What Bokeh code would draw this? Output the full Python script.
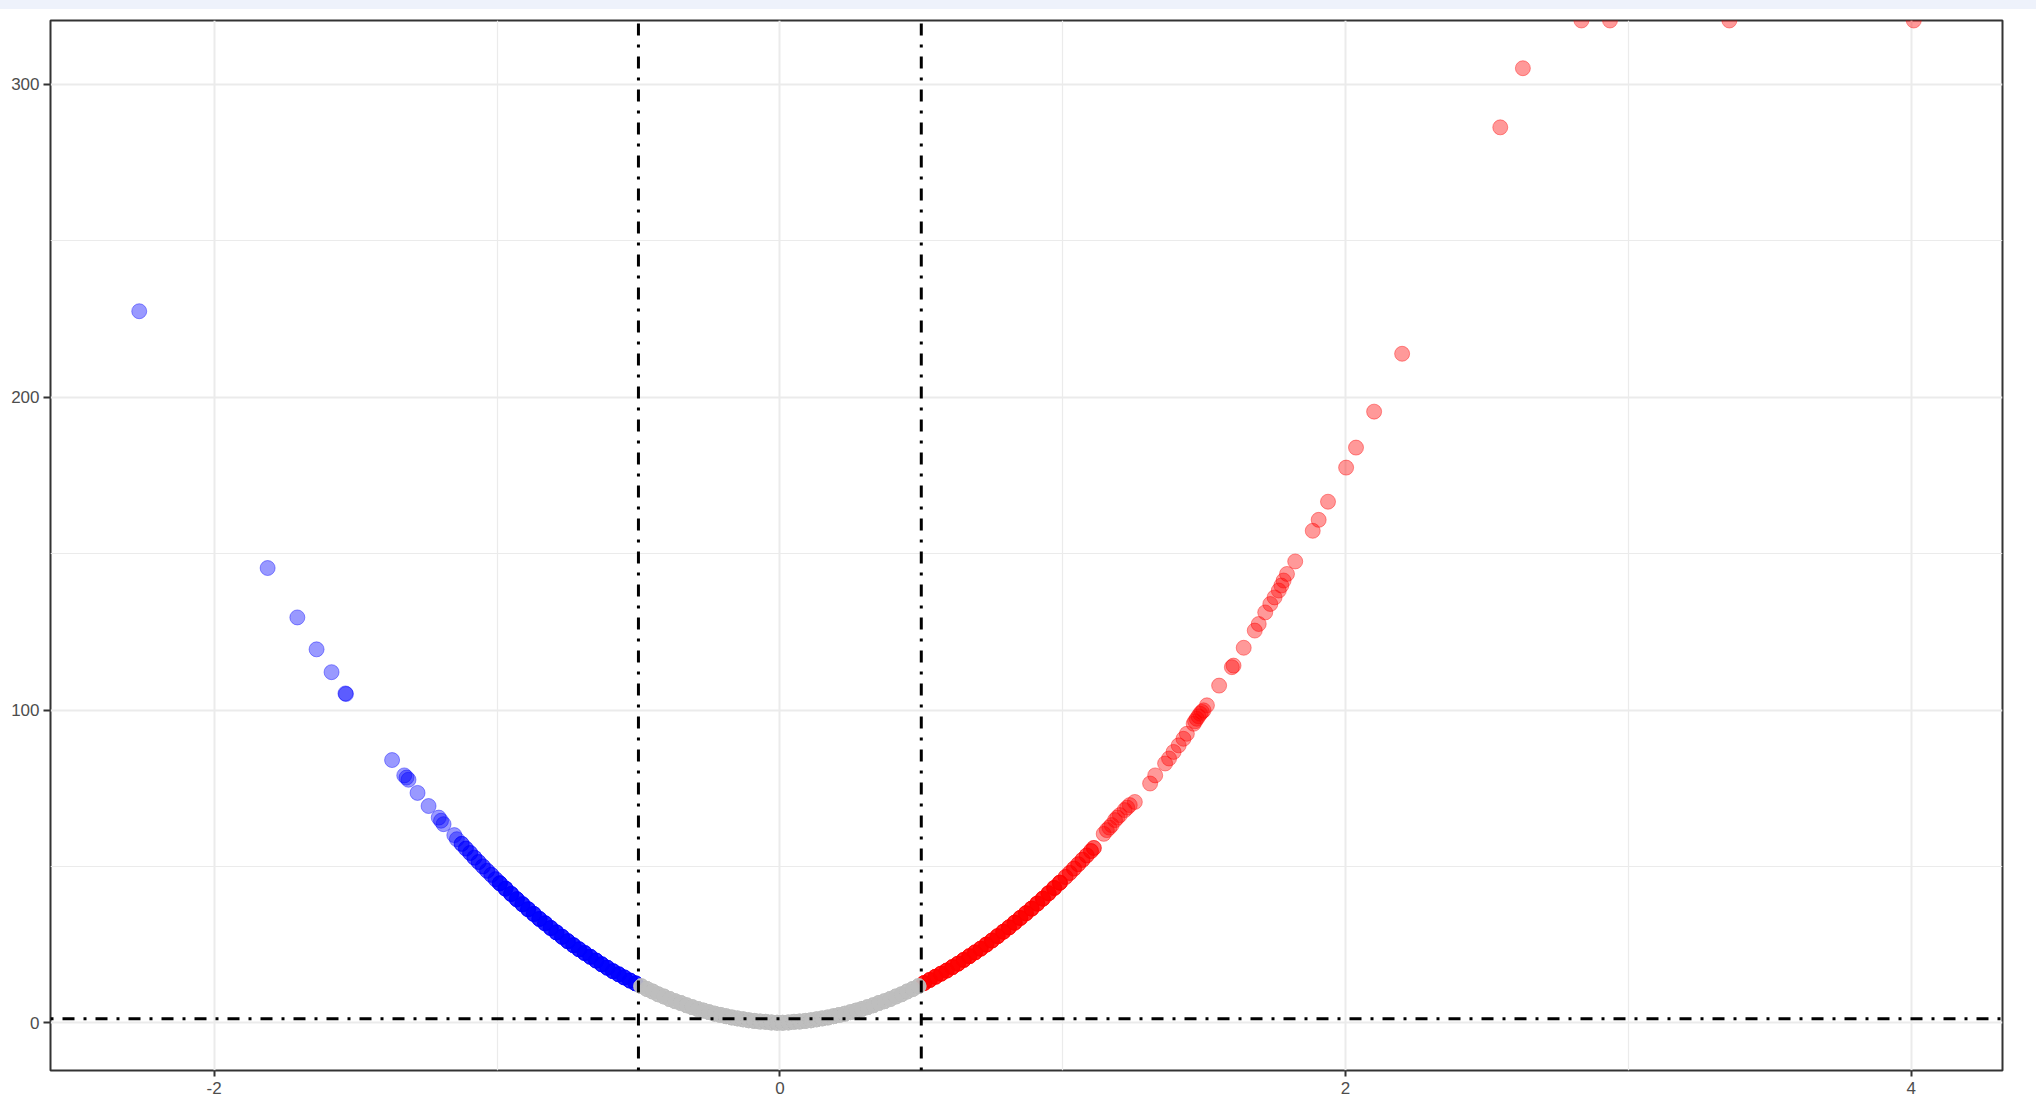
import numpy as np
from bokeh.plotting import figure
from bokeh.models import Range1d, FixedTicker, ColumnDataSource
from bokeh.embed import file_html
from bokeh.resources import INLINE

# ---------------- data ----------------
# log2 fold change (x), -log10 p value (y), n = how many genes sit on that spot
down_x = [-0.51, -0.53, -0.55, -0.57, -0.59, -0.61, -0.63, -0.65, -0.67, -0.69,
          -0.71, -0.73, -0.75, -0.77, -0.79, -0.81, -0.83, -0.85, -0.87, -0.89,
          -0.91, -0.93, -0.95, -0.97, -0.99,
          -1.005, -1.02, -1.035, -1.05, -1.065, -1.08, -1.095, -1.11, -1.125,
          -1.142, -1.151, -1.189, -1.198, -1.206, -1.242, -1.281, -1.313, -1.320,
          -1.328, -1.371, -1.534, -1.536, -1.585, -1.638, -1.706, -1.811, -2.265]
down_y = [12.6, 13.5, 14.5, 15.5, 16.5, 17.6, 18.7, 19.9, 21.1, 22.3,
          23.5, 24.8, 26.1, 27.5, 28.9, 30.3, 31.8, 33.2, 34.8, 36.3,
          37.9, 39.5, 41.2, 42.9, 44.6,
          45.9, 47.3, 48.6, 50.0, 51.4, 52.8, 54.3, 55.7, 57.2,
          58.7, 60.0, 63.5, 64.6, 65.6, 69.3, 73.5, 77.7, 78.4,
          79.1, 84.0, 105.1, 105.3, 112.1, 119.4, 129.6, 145.4, 227.5]
down_n = [4] * 25 + [2] * 9 + [1] * 18

up_x = [0.51, 0.53, 0.55, 0.57, 0.59, 0.61, 0.63, 0.65, 0.67, 0.69,
        0.71, 0.73, 0.75, 0.77, 0.79, 0.81, 0.83, 0.85, 0.87, 0.89,
        0.91, 0.93, 0.95, 0.97, 0.99,
        1.01, 1.025, 1.04, 1.055, 1.07, 1.085, 1.10, 1.11,
        1.145, 1.156, 1.165, 1.173, 1.185, 1.193, 1.202, 1.219, 1.228, 1.237,
        1.255, 1.309, 1.327, 1.362, 1.376, 1.392, 1.410, 1.427, 1.439, 1.463,
        1.468, 1.474, 1.480, 1.486, 1.492, 1.498, 1.510, 1.553, 1.598, 1.604,
        1.640, 1.679, 1.693, 1.716, 1.734, 1.749, 1.764, 1.773, 1.781, 1.793,
        1.822, 1.884, 1.905, 1.938, 2.002, 2.037, 2.101, 2.200, 2.547, 2.627,
        2.834, 2.935, 3.357, 4.009]
up_y = [12.7, 13.7, 14.7, 15.7, 16.7, 17.8, 18.9, 20.1, 21.3, 22.5,
        23.7, 25.0, 26.3, 27.7, 29.1, 30.5, 32.0, 33.5, 35.0, 36.5,
        38.1, 39.7, 41.4, 43.1, 44.8,
        46.6, 47.9, 49.3, 50.7, 52.1, 53.5, 54.9, 55.9,
        60.4, 61.6, 62.4, 63.2, 64.8, 65.6, 66.4, 68.0, 68.8, 69.6,
        70.6, 76.5, 79.1, 82.9, 84.5, 86.6, 88.7, 90.8, 92.4, 95.6,
        96.4, 97.2, 98.0, 98.8, 99.4, 99.9, 101.5, 107.8, 113.7, 114.2,
        119.9, 125.4, 127.5, 131.2, 133.9, 136.0, 138.2, 139.8, 141.4, 143.5,
        147.5, 157.3, 160.8, 166.6, 177.5, 183.9, 195.4, 213.9, 286.3, 305.2,
        float("inf"), float("inf"), float("inf"), float("inf")]   # p = 0
up_n = [4] * 25 + [2] * 8 + [1] * 54

ns_x = [-0.49, -0.47, -0.45, -0.43, -0.41, -0.39, -0.37, -0.35, -0.33, -0.31,
        -0.29, -0.27, -0.25, -0.23, -0.21, -0.19, -0.17, -0.15, -0.13, -0.11,
        -0.09, -0.07, -0.05, -0.03, -0.01,
        0.01, 0.03, 0.05, 0.07, 0.09, 0.11, 0.13, 0.15, 0.17, 0.19,
        0.21, 0.23, 0.25, 0.27, 0.29, 0.31, 0.33, 0.35, 0.37, 0.39,
        0.41, 0.43, 0.45, 0.47, 0.49]
ns_y = [11.7, 10.8, 10.0, 9.1, 8.4, 7.6, 6.9, 6.3, 5.6, 5.0,
        4.4, 3.9, 3.4, 2.9, 2.5, 2.1, 1.7, 1.4, 1.1, 0.8,
        0.6, 0.4, 0.3, 0.1, 0.0,
        0.0, 0.1, 0.3, 0.4, 0.6, 0.8, 1.1, 1.4, 1.7, 2.1,
        2.5, 2.9, 3.4, 3.9, 4.4, 5.0, 5.6, 6.3, 6.9, 7.6,
        8.4, 9.1, 10.0, 10.8, 11.7]
ns_n = [5] * 50

fc_cut = [-0.5, 0.5]      # log fold change thresholds
p_cut = 0.05              # p value threshold

x_ticks = [-2, 0, 2, 4]
x_tick_labels = ["-2", "0", "2", "4"]
x_minor = [-3, -1, 1, 3]
y_ticks = [0, 100, 200, 300]
y_tick_labels = ["0", "100", "200", "300"]
y_minor = [-50, 50, 150, 250]

# ---------------- ranges like ggplot (5 % expansion) ----------------
all_x = np.array(down_x + up_x + ns_x)
all_y = np.array(down_y + up_y + ns_y)
fin_y = all_y[np.isfinite(all_y)]
x_lo = all_x.min() - 0.05 * (all_x.max() - all_x.min())
x_hi = all_x.max() + 0.05 * (all_x.max() - all_x.min())
y_lo = fin_y.min() - 0.05 * (fin_y.max() - fin_y.min())
y_hi = fin_y.max() + 0.05 * (fin_y.max() - fin_y.min())

p = figure(width=2036, height=1103, output_backend="svg", toolbar_location=None,
           x_range=Range1d(x_lo, x_hi), y_range=Range1d(y_lo, y_hi),
           min_border_left=50, min_border_right=34, min_border_top=20,
           min_border_bottom=33)
p.border_fill_color = None
p.background_fill_color = "white"
p.outline_line_color = "#333333"
p.outline_line_width = 2

xt = FixedTicker(ticks=x_ticks, minor_ticks=x_minor)
yt = FixedTicker(ticks=y_ticks, minor_ticks=y_minor)
p.xaxis.ticker = xt
p.yaxis.ticker = yt
p.xgrid.ticker = xt
p.ygrid.ticker = yt
p.xaxis.major_label_overrides = dict(zip(x_ticks, x_tick_labels))
p.yaxis.major_label_overrides = dict(zip(y_ticks, y_tick_labels))

for g in (p.xgrid, p.ygrid):
    g.grid_line_color = "#EBEBEB"
    g.grid_line_width = 2
    g.minor_grid_line_color = "#EBEBEB"
    g.minor_grid_line_width = 1.2

for ax in (p.xaxis, p.yaxis):
    ax.axis_line_color = None
    ax.major_tick_line_color = "#333333"
    ax.major_tick_line_width = 2
    ax.major_tick_in = 0
    ax.minor_tick_in = 0
    ax.minor_tick_out = 0
    ax.major_label_text_font = "Liberation Sans"
    ax.major_label_text_font_size = "17px"
    ax.major_label_text_color = "#4D4D4D"
p.xaxis.major_tick_out = 6
p.xaxis.major_label_standoff = 5
p.yaxis.major_tick_out = 7
p.yaxis.major_label_standoff = 4


def add_points(xs, ys, ns, color):
    x = np.repeat(np.array(xs, dtype=float), ns)
    y = np.repeat(np.array(ys, dtype=float), ns)
    y = np.where(np.isinf(y), y_hi, y)   # infinite values sit on the panel edge
    src = ColumnDataSource(dict(x=x, y=y))
    p.scatter("x", "y", source=src, size=15, fill_color=color, line_color=color,
              fill_alpha=0.4, line_alpha=0.4, line_width=1)


add_points(down_x, down_y, down_n, "#0000FF")
add_points(up_x, up_y, up_n, "#FF0000")
add_points(ns_x, ns_y, ns_n, "#BEBEBE")

dash = "3 9 12 9"
p.segment(x0=fc_cut, y0=[y_lo] * 2, x1=fc_cut, y1=[y_hi] * 2,
          line_color="black", line_width=3, line_dash=dash)
h = -np.log10(p_cut)
p.segment(x0=[x_lo], y0=[h], x1=[x_hi], y1=[h],
          line_color="black", line_width=3, line_dash=dash)

html = file_html(p, INLINE, title="volcano")
style = ("<style>html{background:#ffffff linear-gradient(#eef2fb,#eef2fb) "
         "no-repeat 0 0 / 100% 9px;}</style>")
html = html.replace("</head>", style + "</head>", 1)
open("out.html", "w").write(html)
